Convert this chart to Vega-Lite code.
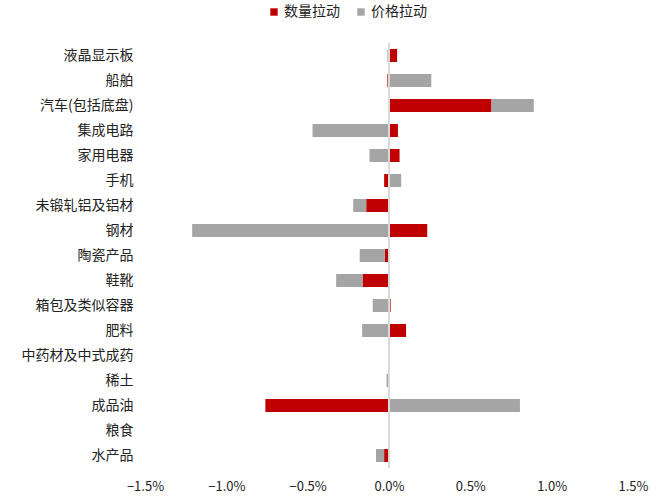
{
  "$schema": "https://vega.github.io/schema/vega-lite/v6.json",
  "width": 488,
  "height": 425,
  "autosize": "none",
  "padding": {"left": 145, "top": 43, "right": 17, "bottom": 32},
  "background": "white",
  "config": {
    "font": "Noto Sans CJK SC",
    "view": {"stroke": null},
    "axis": {"labelFont": "Noto Sans CJK SC", "labelColor": "#222222", "labelFontSize": 13}
  },
  "data": {
    "values": [
      {"品类": "液晶显示板", "系列": "数量拉动", "值": 0.05},
      {"品类": "液晶显示板", "系列": "价格拉动", "值": -0.01},
      {"品类": "船舶", "系列": "数量拉动", "值": -0.01},
      {"品类": "船舶", "系列": "价格拉动", "值": 0.26},
      {"品类": "汽车(包括底盘)", "系列": "数量拉动", "值": 0.63},
      {"品类": "汽车(包括底盘)", "系列": "价格拉动", "值": 0.26},
      {"品类": "集成电路", "系列": "数量拉动", "值": 0.055},
      {"品类": "集成电路", "系列": "价格拉动", "值": -0.47},
      {"品类": "家用电器", "系列": "数量拉动", "值": 0.065},
      {"品类": "家用电器", "系列": "价格拉动", "值": -0.12},
      {"品类": "手机", "系列": "数量拉动", "值": -0.03},
      {"品类": "手机", "系列": "价格拉动", "值": 0.075},
      {"品类": "未锻轧铝及铝材", "系列": "数量拉动", "值": -0.14},
      {"品类": "未锻轧铝及铝材", "系列": "价格拉动", "值": -0.08},
      {"品类": "钢材", "系列": "数量拉动", "值": 0.235},
      {"品类": "钢材", "系列": "价格拉动", "值": -1.21},
      {"品类": "陶瓷产品", "系列": "数量拉动", "值": -0.025},
      {"品类": "陶瓷产品", "系列": "价格拉动", "值": -0.155},
      {"品类": "鞋靴", "系列": "数量拉动", "值": -0.16},
      {"品类": "鞋靴", "系列": "价格拉动", "值": -0.165},
      {"品类": "箱包及类似容器", "系列": "数量拉动", "值": 0.01},
      {"品类": "箱包及类似容器", "系列": "价格拉动", "值": -0.1},
      {"品类": "肥料", "系列": "数量拉动", "值": 0.105},
      {"品类": "肥料", "系列": "价格拉动", "值": -0.165},
      {"品类": "中药材及中式成药", "系列": "数量拉动", "值": 0.0},
      {"品类": "中药材及中式成药", "系列": "价格拉动", "值": 0.0},
      {"品类": "稀土", "系列": "数量拉动", "值": 0.006},
      {"品类": "稀土", "系列": "价格拉动", "值": -0.015},
      {"品类": "成品油", "系列": "数量拉动", "值": -0.76},
      {"品类": "成品油", "系列": "价格拉动", "值": 0.805},
      {"品类": "粮食", "系列": "数量拉动", "值": -0.004},
      {"品类": "粮食", "系列": "价格拉动", "值": 0.001},
      {"品类": "水产品", "系列": "数量拉动", "值": -0.03},
      {"品类": "水产品", "系列": "价格拉动", "值": -0.05}
    ]
  },
  "layer": [
    {
      "mark": {"type": "bar"},
      "encoding": {
        "y": {
          "field": "品类", "type": "nominal", "sort": null,
          "scale": {"paddingInner": 0.48, "paddingOuter": 0.24},
          "axis": {"title": null, "domain": false, "ticks": false, "labelPadding": 12, "labelFontSize": 14}
        },
        "x": {
          "field": "值", "type": "quantitative", "stack": "zero",
          "scale": {"domain": [-1.5, 1.5], "nice": false},
          "axis": {
            "title": null, "grid": false, "domain": false, "ticks": false,
            "values": [-1.5, -1.0, -0.5, 0, 0.5, 1.0, 1.5],
            "labelExpr": "format(datum.value, '.1f') + '%'",
            "labelPadding": 12, "labelFlush": false
          }
        },
        "color": {
          "field": "系列", "type": "nominal",
          "sort": ["数量拉动", "价格拉动"],
          "scale": {"domain": ["数量拉动", "价格拉动"], "range": ["#C00000", "#A5A5A5"]},
          "legend": {
            "title": null, "orient": "none", "direction": "horizontal",
            "legendX": 122, "legendY": -38,
            "symbolType": "square", "symbolSize": 55, "symbolStrokeWidth": 0,
            "labelFontSize": 14, "labelColor": "#222222", "labelFont": "Noto Sans CJK SC",
            "columnPadding": 14, "labelOffset": 3
          }
        },
        "order": {"field": "系列", "sort": "descending"}
      }
    },
    {
      "mark": {"type": "rule", "color": "#D9D9D9", "strokeWidth": 2},
      "encoding": {"x": {"datum": 0}}
    }
  ]
}
